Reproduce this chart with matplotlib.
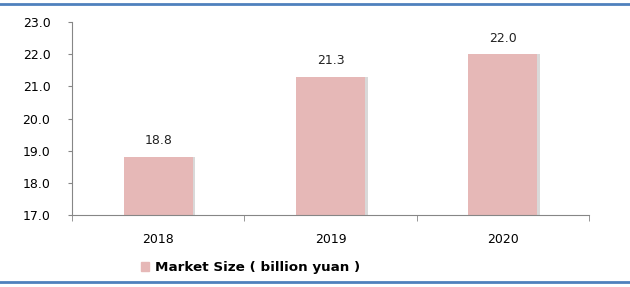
import matplotlib.pyplot as plt
from matplotlib.lines import Line2D
from matplotlib.patches import Patch

years = ["2018", "2019", "2020"]
market_size = [18.8, 21.3, 22.0]
y_ticks = [17.0, 18.0, 19.0, 20.0, 21.0, 22.0, 23.0]

fig = plt.figure(figsize=(6.3, 2.87), dpi=100)
ax = fig.add_axes([72 / 630, 1 - 215 / 287, (589 - 72) / 630, (215 - 22) / 287])

x = range(len(years))
# soft shadow on the right of each bar
ax.bar([i + 0.015 for i in x], [v - 17 for v in market_size], bottom=17, width=0.4,
       color="#d9d9d9", zorder=1)
bars = ax.bar(x, [v - 17 for v in market_size], bottom=17, width=0.4,
              color="#e6b8b7", zorder=2)
for i, v in zip(x, market_size):
    ax.text(i, v + 0.3, f"{v:.1f}", ha="center", va="bottom", fontsize=9, color="#222222")

ax.set_ylim(17, 23)
ax.set_xlim(-0.5, 2.5)
ax.set_yticks(y_ticks)
ax.set_yticklabels([f"{t:.1f}" for t in y_ticks], fontsize=9)
ax.set_xticks(list(x))
ax.set_xticklabels(years, fontsize=9)
ax.tick_params(axis="x", length=0, pad=13)
ax.set_xticks([-0.5, 0.5, 1.5, 2.5], minor=True)
ax.tick_params(axis="x", which="minor", length=4, color="#868686")
ax.tick_params(axis="y", length=3, color="#868686", pad=12.5)
for s in ["top", "right"]:
    ax.spines[s].set_visible(False)
for s in ["left", "bottom"]:
    ax.spines[s].set_color("#868686")
    ax.spines[s].set_linewidth(0.8)

fig.legend(handles=[Patch(color="#e6b8b7")], labels=["Market Size ( billion yuan )"],
           loc="center left", bbox_to_anchor=(129 / 630, 1 - 268 / 287), frameon=False,
           prop={"weight": "bold", "size": 9.7}, handlelength=0.6, handleheight=0.6,
           handletextpad=0.45)

# blue rules at top and bottom
fig.add_artist(Line2D([0, 1], [1 - 3.5 / 287, 1 - 3.5 / 287], color="#4f81bd", lw=2))
fig.add_artist(Line2D([0, 1], [1 - 282 / 287, 1 - 282 / 287], color="#4f81bd", lw=2))

fig.savefig("out.png", dpi=100)
